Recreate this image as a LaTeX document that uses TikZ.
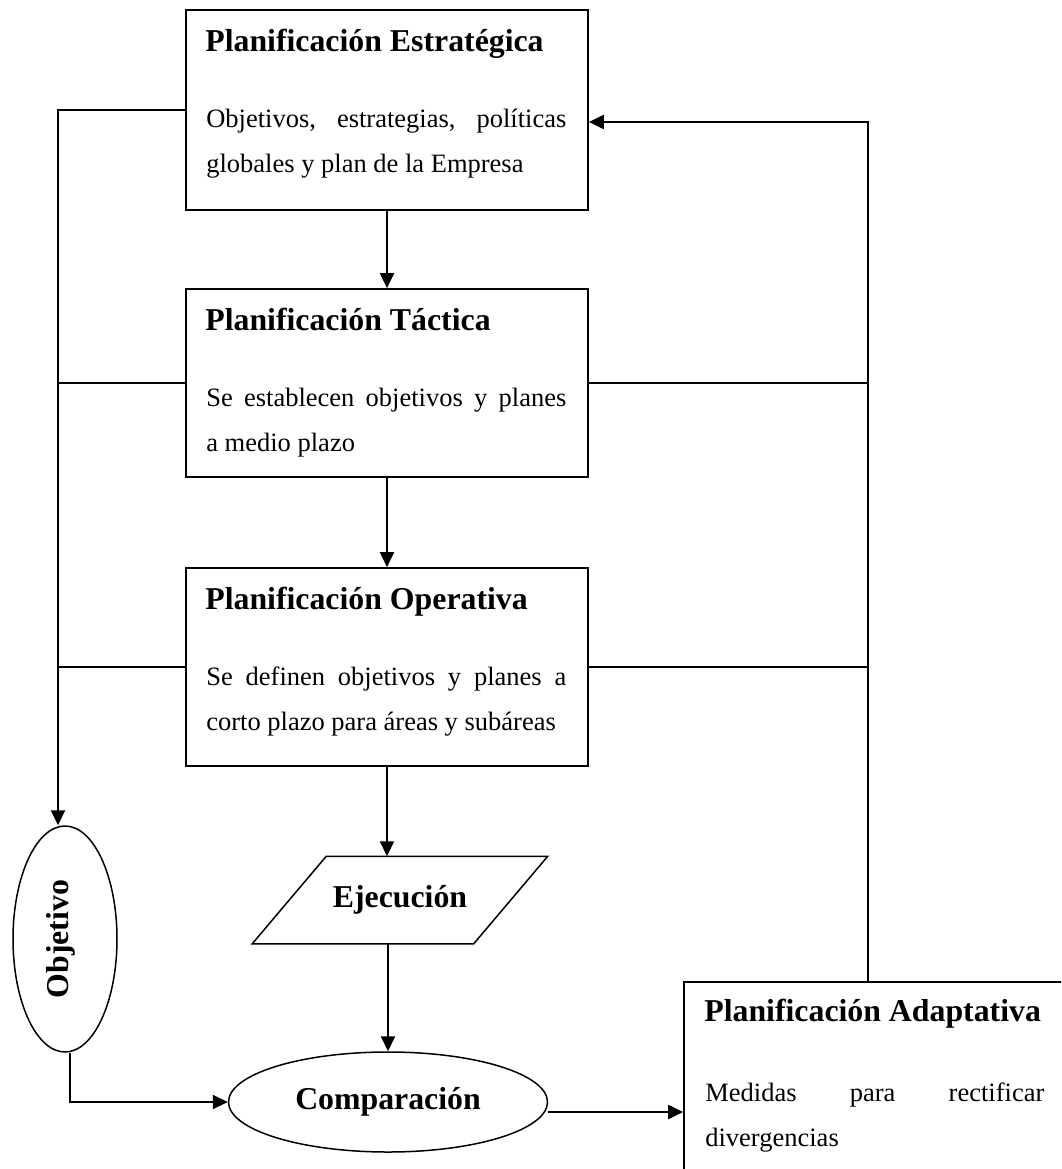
\documentclass[tikz,border=0pt]{standalone}
\usepackage{fontspec}
\usepackage{graphicx}
\setmainfont{Liberation Serif}
\usetikzlibrary{arrows.meta,shapes.geometric,positioning}
\tolerance=10000
\hbadness=10000
\hyphenpenalty=10000

\tikzset{
  caja/.style={rectangle,draw,line width=1.7pt,minimum width=402pt,inner sep=0pt},
  titulo/.style={anchor=base west,inner sep=0pt,font=\fontsize{31.8}{38}\selectfont\bfseries},
  cuerpo/.style={anchor=base west,inner sep=0pt,text width=360pt,align=justify,font=\fontsize{26.5}{45}\selectfont},
  forma/.style={draw,line width=1.5pt,inner sep=0pt,font=\fontsize{31.8}{38}\selectfont\bfseries},
  flecha/.style={line width=2pt,-{Triangle[length=15pt,width=14pt]}},
  linea/.style={line width=1.8pt}
}

\begin{document}
\begin{tikzpicture}[x=1pt,y=-1pt]
\path[use as bounding box] (0,0) rectangle (1061,1169);
\clip (0,0) rectangle (1061,1169);

% niveles de planificacion
\node[caja,minimum height=200pt] (est) at (387,110) {};
\node[titulo] (est-t) at ([xshift=20pt,yshift=-42pt]est.north west) {Planificación Estratégica};
\node[cuerpo] (est-c) at ([xshift=21pt,yshift=-118pt]est.north west) {Objetivos, estrategias, políticas\linebreak globales y plan de la Empresa};

\node[caja,minimum height=188pt] (tac) at (387,383) {};
\node[titulo] (tac-t) at ([xshift=20pt,yshift=-42pt]tac.north west) {Planificación Táctica};
\node[cuerpo] (tac-c) at ([xshift=21pt,yshift=-118pt]tac.north west) {Se establecen objetivos y planes\linebreak a medio plazo};

\node[caja,minimum height=198pt] (op) at (387,667) {};
\node[titulo] (op-t) at ([xshift=20pt,yshift=-42pt]op.north west) {Planificación Operativa};
\node[cuerpo] (op-c) at ([xshift=21pt,yshift=-118pt]op.north west) {Se definen objetivos y planes a\linebreak corto plazo para áreas y subáreas};

\node[caja,minimum width=382pt,minimum height=200pt] (adap) at (875,1082) {};
\node[titulo] (adap-t) at ([xshift=21pt,yshift=-40pt]adap.north west) {Planificación Adaptativa};
\node[cuerpo,text width=339pt] (adap-c) at ([xshift=22pt,yshift=-120pt]adap.north west) {Medidas para rectificar\linebreak divergencias};

% ejecucion y control
\node[forma,draw=none,minimum width=220pt,minimum height=86pt] (ejec) at (400,900) {Ejecución};
\draw[forma] ([xshift=37pt]ejec.north west) -- ([xshift=37pt]ejec.north east)
  -- ([xshift=-37pt]ejec.south east) -- ([xshift=-37pt]ejec.south west) -- cycle;
\node[forma,ellipse,minimum width=319pt,minimum height=100pt] (comp) at (388,1102) {\raisebox{4pt}{Comparación}};
\node[forma,ellipse,minimum width=104pt,minimum height=226pt] (obj) at (65,939) {\hspace{-8pt}\rotatebox{90}{Objetivo}};

\coordinate (izq) at (58,0);
\coordinate (der) at (868,0);

\draw[flecha] (est) -- (tac);
\draw[flecha] (tac) -- (op);
\draw[flecha] (op.south) -- (op.south |- ejec.north);
\draw[flecha] (comp.north |- ejec.south) -- (comp.north);

\draw[flecha] (est.west) -| (izq |- obj.north);
\draw[linea] (tac.west) -- (tac.west -| izq);
\draw[linea] (op.west) -- (op.west -| izq);
\draw[flecha] ([xshift=5pt]obj.south) |- (comp.west);

\draw[flecha] ([yshift=-10pt]comp.east) -- ([yshift=-10pt]comp.east -| adap.west);
\draw[flecha] (adap.north -| der) |- ([yshift=-12pt]est.east);
\draw[linea] (tac.east) -- (tac.east -| der);
\draw[linea] (op.east) -- (op.east -| der);

\end{tikzpicture}
\end{document}
